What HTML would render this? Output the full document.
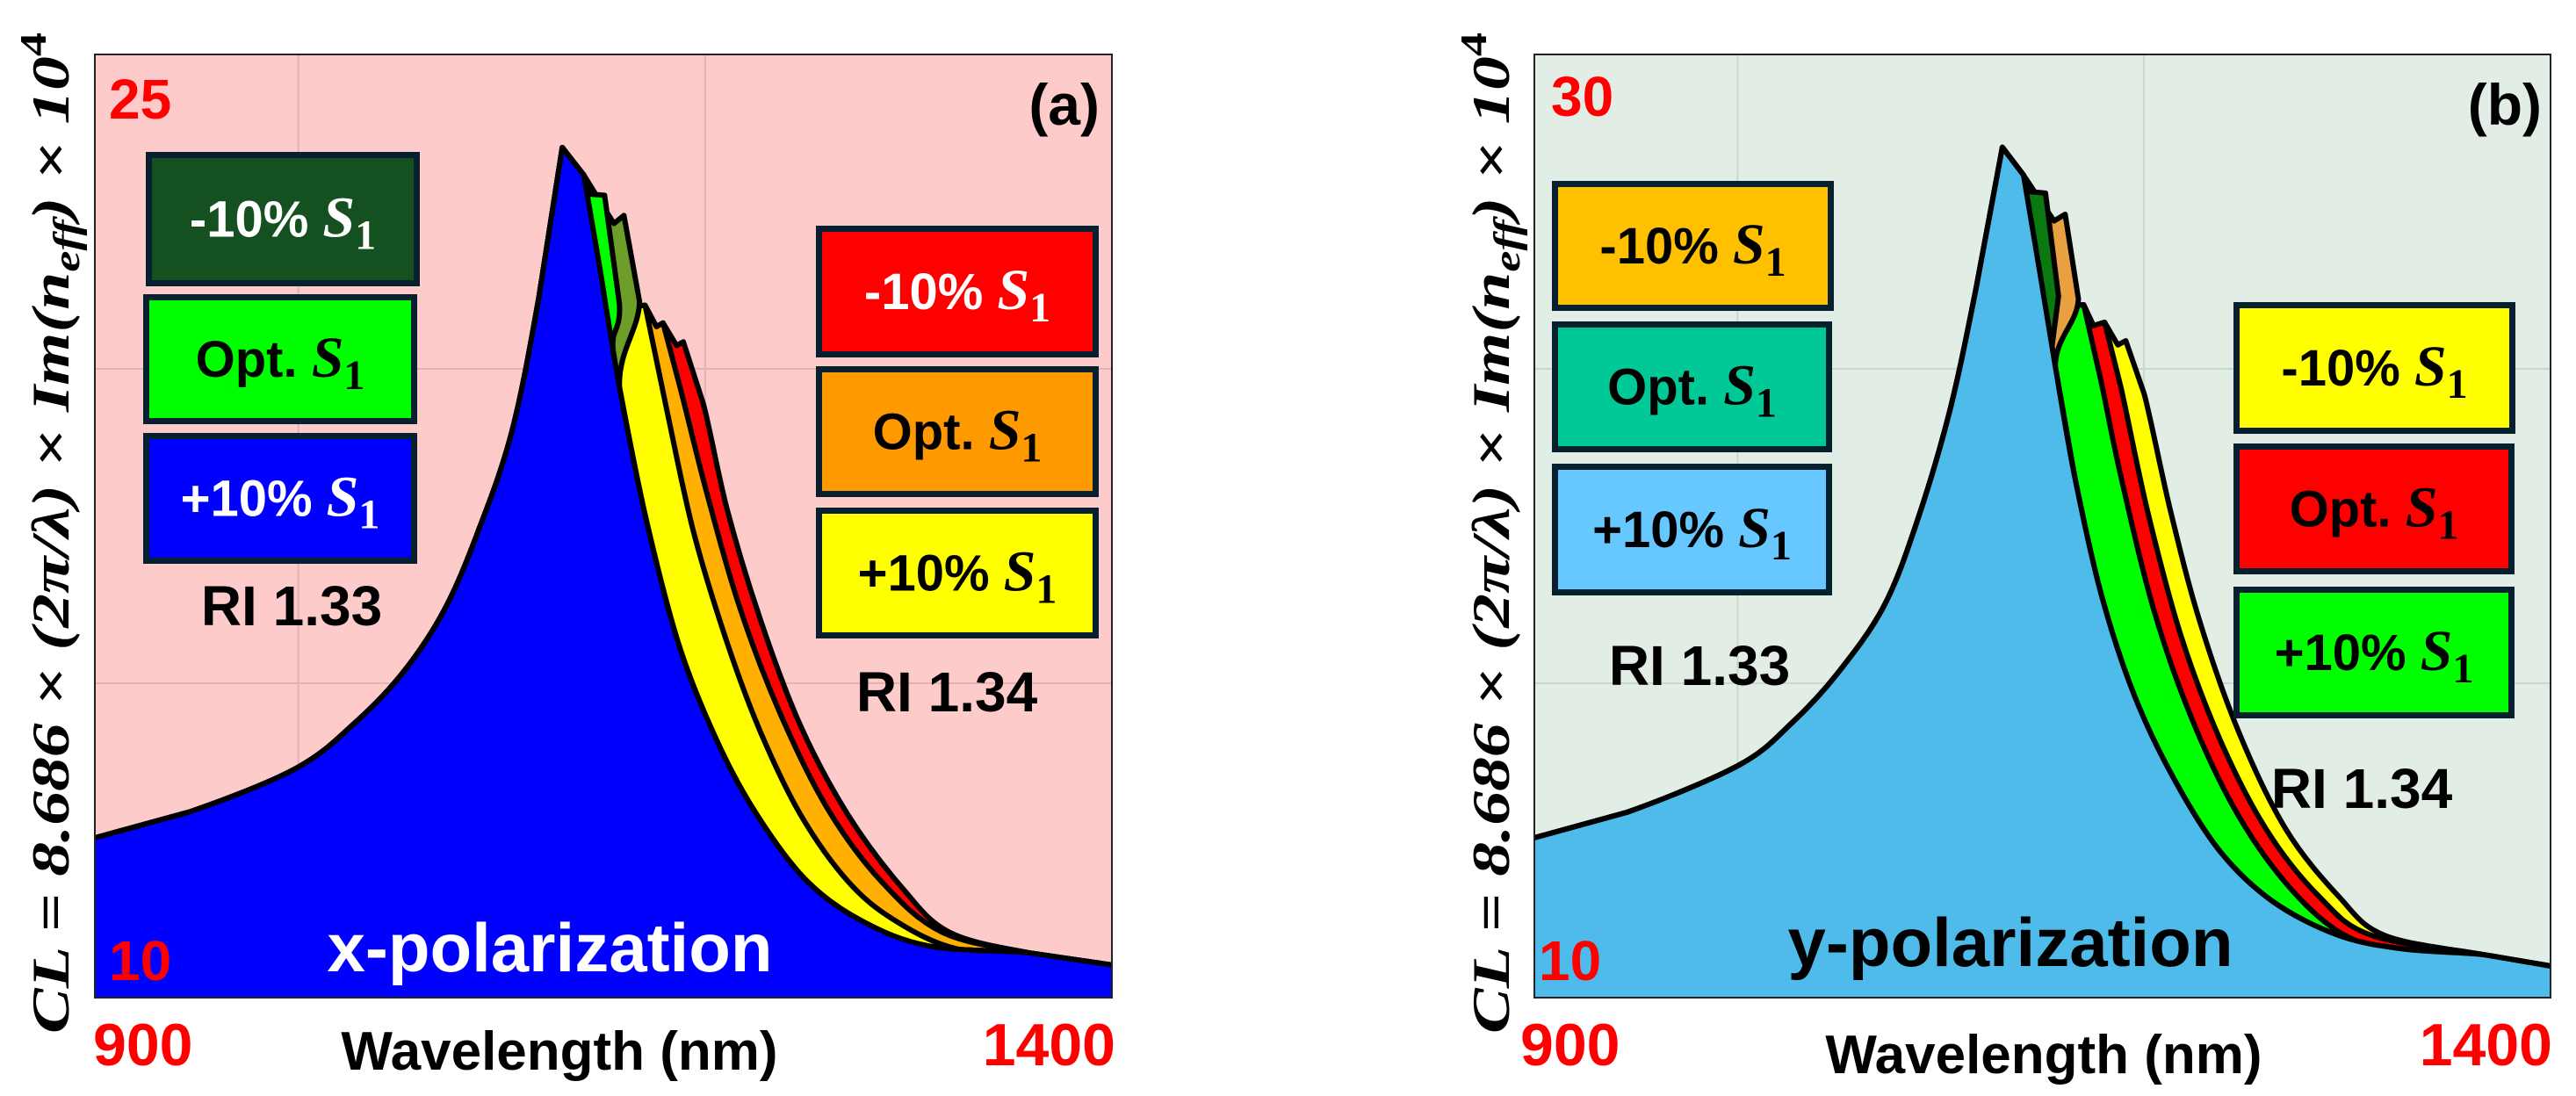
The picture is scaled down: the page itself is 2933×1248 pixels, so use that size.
<!DOCTYPE html>
<html><head><meta charset="utf-8"><style>
html,body{margin:0;padding:0;background:#fff;}
svg{display:block;}
text{font-family:"Liberation Sans",sans-serif;font-weight:bold;}
.m{font-family:"Liberation Serif",serif;font-style:italic;font-weight:bold;}
</style></head><body>
<svg id="fig" width="2933" height="1248" viewBox="0 0 2933 1248" xmlns="http://www.w3.org/2000/svg"></svg>
<script>
// ---------- Panel (a) data: x-polarization ----------
const aLeftX = [900,946.2,999.1,1028.9,1052,1071.9,1088.4,1105,1118.2,1129.8,1140.4];
const aLeftY = [12.54,12.95,13.65,14.40,15.19,16.17,17.41,19.00,21.12,23.52,23.08];
const aBlueTailX = [1148,1157.9,1171.2,1187.7,1207.6,1227.4,1250.5,1277,1310.1,1359.7,1400];
const aBlueTailY = [21.65,19.71,17.58,15.55,13.96,12.81,11.84,11.22,10.82,10.71,10.52];
const aOliveTailX = [1155.2,1160.1,1167.8,1157.9,1171.2,1187.7,1207.6,1227.4,1250.5,1277,1310.1,1359.7,1400];
const aOliveTailY = [22.31,22.44,21.07,19.71,17.58,15.55,13.96,12.81,11.84,11.22,10.82,10.71,10.52];
const aGreenTailX = [1143,1150.6,1157.9,1154.6,1157.9,1171.2,1187.7,1207.6,1227.4,1250.5,1277,1310.1,1359.7,1400];
const aGreenTailY = [22.78,22.76,21.03,20.41,19.71,17.58,15.55,13.96,12.81,11.84,11.22,10.82,10.71,10.52];
const aYellowTailX = [1154.6,1161.2,1170.5,1181.1,1194.3,1210.9,1227.3,1247.1,1270.5,1293.6,1323.3,1359.7,1400];
const aYellowTailY = [20.41,20.99,21.01,19.36,17.41,15.64,14.22,12.90,11.84,11.22,10.78,10.71,10.52];
const aOrangeTailX = [1154.6,1161.2,1170.5,1176.1,1179.3,1187.7,1200.9,1217.4,1237.3,1260.5,1286.9,1316.6,1359.7,1400];
const aOrangeTailY = [20.41,20.99,21.01,20.67,20.73,19.71,18.02,16.17,14.49,12.99,11.84,11.04,10.71,10.52];
const aRedTailX = [1154.6,1161.2,1170.5,1176.1,1179.3,1186,1189.3,1199.2,1210.9,1227.4,1247.1,1270.4,1296.8,1320.1,1359.7,1400];
const aRedTailY = [20.41,20.99,21.01,20.67,20.73,20.37,20.43,19.44,17.76,15.99,14.31,12.90,11.75,11.04,10.71,10.52];
// ---------- Panel (b) data: y-polarization ----------
const bLeftX = [900,945.6,1000.7,1026.6,1049.3,1072,1088.2,1104.4,1117.4,1130.3,1140.7];
const bLeftY = [13.39,13.93,14.93,15.82,16.88,18.30,20.08,22.44,25.05,28.03,27.44];
const bBlueTailX = [1148.2,1156.3,1166,1179,1195.2,1214.7,1237.4,1263.3,1295.7,1328.1,1367.1,1400];
const bBlueTailY = [25.52,23.39,21.02,18.54,16.41,14.64,13.10,12.04,11.32,11.03,10.91,10.67];
const bDkGreenTailX = [1144,1151.5,1157.9,1154.7,1156.3,1166,1179,1195.2,1214.7,1237.4,1263.3,1295.7,1328.1,1367.1,1400];
const bDkGreenTailY = [27.09,27.06,24.87,23.81,23.39,21.02,18.54,16.41,14.64,13.10,12.04,11.32,11.03,10.91,10.67];
const bTanTailX = [1155.7,1161.2,1167.7,1156.3,1166,1179,1195.2,1214.7,1237.4,1263.3,1295.7,1328.1,1367.1,1400];
const bTanTailY = [26.47,26.61,24.81,23.39,21.02,18.54,16.41,14.64,13.10,12.04,11.32,11.03,10.91,10.67];
const bGreenTailX = [1154.7,1162.2,1170.3,1179,1188.7,1205,1224.4,1247.1,1273,1298.9,1328.1,1367.1,1400];
const bGreenTailY = [23.81,24.67,24.69,23.04,21.03,18.19,15.82,13.81,12.27,11.32,10.97,10.91,10.67];
const bRedTailX = [1154.7,1162.2,1170.3,1175.1,1180.6,1188.7,1201.7,1217.9,1237.4,1260.1,1286,1311.9,1367.1,1400];
const bRedTailY = [23.81,24.67,24.69,24.25,24.32,22.92,20.32,17.71,15.47,13.57,12.15,11.32,10.91,10.67];
const bYellowTailX = [1154.7,1162.2,1170.3,1175.1,1180.6,1187.1,1191,1200.1,1213,1227.6,1247.1,1269.8,1295.7,1318.4,1367.1,1400];
const bYellowTailY = [23.81,24.67,24.69,24.25,24.32,23.84,23.93,22.80,20.32,17.95,15.58,13.57,12.15,11.32,10.91,10.67];

const NS = "http://www.w3.org/2000/svg";
const svg = document.getElementById('fig');
function mk(tag, attrs, parent){
  const e = document.createElementNS(NS, tag);
  for (const k in attrs) e.setAttribute(k, attrs[k]);
  (parent||svg).appendChild(e);
  return e;
}
// smooth path through points; segments shorter than 40px stay straight (keeps sharp peaks/steps)
function smooth(pts){
  let d = 'M' + pts[0][0].toFixed(1) + ',' + pts[0][1].toFixed(1);
  for (let i = 0; i < pts.length - 1; i++){
    const p0 = pts[i-1] || pts[i], p1 = pts[i], p2 = pts[i+1], p3 = pts[i+2] || p2;
    const len = Math.hypot(p2[0]-p1[0], p2[1]-p1[1]);
    const l0 = Math.hypot(p1[0]-p0[0], p1[1]-p0[1]), l2 = Math.hypot(p3[0]-p2[0], p3[1]-p2[1]);
    if (len < 40 || l0 < 40 || l2 < 40 || i >= pts.length - 2 && false){
      d += ' L' + p2[0].toFixed(1) + ',' + p2[1].toFixed(1);
      continue;
    }
    const c1 = [p1[0] + (p2[0]-p0[0])/6, p1[1] + (p2[1]-p0[1])/6];
    const c2 = [p2[0] - (p3[0]-p1[0])/6, p2[1] - (p3[1]-p1[1])/6];
    d += ' C' + c1[0].toFixed(1) + ',' + c1[1].toFixed(1) + ' ' + c2[0].toFixed(1) + ',' + c2[1].toFixed(1) + ' ' + p2[0].toFixed(1) + ',' + p2[1].toFixed(1);
  }
  return d;
}
function panel(p){
  const g = mk('g', {});
  
  
  const sx = v => p.L + (v - 900) / 500 * (p.R - p.L);
  const sy = v => p.B - (v - p.ymin) / (p.ymax - p.ymin) * (p.B - p.T);
  const bg = mk('rect', {x:p.L, y:p.T, width:p.R-p.L, height:p.B-p.T, fill:p.bg}, g);
  
  
  [0.2, 0.6].forEach(f => {
    const l = mk('line', {x1:p.L+f*(p.R-p.L), x2:p.L+f*(p.R-p.L), y1:p.T, y2:p.B, stroke:p.grid, 'stroke-width':2}, g);
    
    
  });
  [1/3, 2/3].forEach(f => {
    const l = mk('line', {x1:p.L, x2:p.R, y1:p.T+f*(p.B-p.T), y2:p.T+f*(p.B-p.T), stroke:p.grid, 'stroke-width':2}, g);
    
    
  });
  p.series.forEach(s => {
    const xs = p.leftX.concat(s.x), ys = p.leftY.concat(s.y);
    const pts = xs.map((x, i) => [sx(x), sy(ys[i])]);
    const line = smooth(pts);
    const d = 'M' + pts[0][0] + ',' + p.B + ' L' + line.slice(1) + ' L' + pts[pts.length-1][0] + ',' + p.B + ' Z';
    const a = mk('path', {d:d, fill:s.c, stroke:'none'}, g);
    
    
    const l = mk('path', {d:line, fill:'none', stroke:'#000', 'stroke-width':6, 'stroke-linejoin':'round'}, g);
    
    
  });
  const fr = mk('rect', {x:p.L, y:p.T, width:p.R-p.L, height:p.B-p.T, fill:'none', stroke:'#222', 'stroke-width':2}, g);
  
  
  p.boxes.forEach(b => {
    const bx = mk('g', {}, g);
    
    
    mk('rect', {x:b.x+3.5, y:b.y+3.5, width:b.w-7, height:b.h-7, fill:b.c, stroke:'#062030', 'stroke-width':7}, bx);
    const t = mk('text', {x:b.x+b.w/2, y:b.y+b.h/2+20, 'text-anchor':'middle', 'font-size':58, fill:b.tc}, bx);
    const t1 = mk('tspan', {}, t); t1.textContent = b.t + ' ';
    const t2 = mk('tspan', {class:'m', 'font-size':66}, t); t2.textContent = 'S';
    const t3 = mk('tspan', {class:'m', 'font-size':48, dy:14, style:'font-style:normal'}, t); t3.textContent = '1';
  });
  p.texts.forEach(o => {
    const t = mk('text', {x:o.x, y:o.y, 'text-anchor':o.a||'middle', 'font-size':o.s, fill:o.c||'#000'}, g);
    t.textContent = o.t;
    
    
  });
  const yl = mk('text', {x:0, y:0, transform:'translate('+p.yl+','+((p.T+p.B)/2+8)+') rotate(-90)', 'text-anchor':'middle', 'font-size':60, class:'m', textLength:1140, lengthAdjust:'spacingAndGlyphs'}, g);
  
  
  const y1 = mk('tspan', {}, yl); y1.textContent = 'CL = 8.686 × (2π/λ) × Im(n';
  const y2 = mk('tspan', {dy:12, 'font-size':42}, yl); y2.textContent = 'eff';
  const y3 = mk('tspan', {dy:-12}, yl); y3.textContent = ') × 10';
  const y4 = mk('tspan', {dy:-26, 'font-size':42, style:'font-style:normal'}, yl); y4.textContent = '4';
}

panel({
  name:'panel-a', L:108, R:1266, T:62, B:1136, ymin:10, ymax:25, bg:'#FCCBCA', grid:'#e3b3b3', yl:78,
  leftX:aLeftX, leftY:aLeftY,
  series:[
    {n:'ri134-minus10', x:aRedTailX, y:aRedTailY, c:'#FF0000'},
    {n:'ri134-opt', x:aOrangeTailX, y:aOrangeTailY, c:'#FFB000'},
    {n:'ri134-plus10', x:aYellowTailX, y:aYellowTailY, c:'#FFFF00'},
    {n:'ri133-minus10', x:aOliveTailX, y:aOliveTailY, c:'#6E9E2A'},
    {n:'ri133-opt', x:aGreenTailX, y:aGreenTailY, c:'#00FF00'},
    {n:'ri133-plus10', x:aBlueTailX, y:aBlueTailY, c:'#0000FF'}
  ],
  boxes:[
    {n:'legend-ri133-minus10', x:166, y:173, w:312, h:153, c:'#155020', tc:'#fff', t:'-10%'},
    {n:'legend-ri133-opt', x:163, y:335, w:312, h:148, c:'#00FF00', tc:'#000', t:'Opt.'},
    {n:'legend-ri133-plus10', x:163, y:493, w:312, h:149, c:'#0000FF', tc:'#fff', t:'+10%'},
    {n:'legend-ri134-minus10', x:929, y:257, w:322, h:150, c:'#FF0000', tc:'#fff', t:'-10%'},
    {n:'legend-ri134-opt', x:929, y:417, w:322, h:149, c:'#FF9900', tc:'#000', t:'Opt.'},
    {n:'legend-ri134-plus10', x:929, y:578, w:322, h:149, c:'#FFFF00', tc:'#000', t:'+10%'}
  ],
  texts:[
    {n:'label-ri-133', t:'RI 1.33', x:332, y:712, s:64},
    {n:'label-ri-134', t:'RI 1.34', x:1078, y:810, s:64},
    {n:'y-max-label', t:'25', x:124, y:135, s:64, c:'#FF0000', a:'start'},
    {n:'y-min-label', t:'10', x:124, y:1116, s:64, c:'#FF0000', a:'start'},
    {n:'panel-label-a', t:'(a)', x:1252, y:142, s:66, a:'end'},
    {n:'polarization-label', t:'x-polarization', x:626, y:1106, s:78, c:'#fff'},
    {n:'x-min-label', t:'900', x:106, y:1213, s:68, c:'#FF0000', a:'start'},
    {n:'x-max-label', t:'1400', x:1270, y:1213, s:68, c:'#FF0000', a:'end'},
    {n:'x-axis-title', t:'Wavelength (nm)', x:637, y:1218, s:62}
  ]
});

panel({
  name:'panel-b', L:1747, R:2904, T:62, B:1136, ymin:10, ymax:30, bg:'#E2EEE5', grid:'#c8d8cc', yl:1718,
  leftX:bLeftX, leftY:bLeftY,
  series:[
    {n:'ri134-minus10', x:bYellowTailX, y:bYellowTailY, c:'#FFFF00'},
    {n:'ri134-opt', x:bRedTailX, y:bRedTailY, c:'#FF0000'},
    {n:'ri134-plus10', x:bGreenTailX, y:bGreenTailY, c:'#00FF00'},
    {n:'ri133-opt', x:bTanTailX, y:bTanTailY, c:'#E8A040'},
    {n:'ri133-minus10', x:bDkGreenTailX, y:bDkGreenTailY, c:'#0A7A10'},
    {n:'ri133-plus10', x:bBlueTailX, y:bBlueTailY, c:'#4FBBEA'}
  ],
  boxes:[
    {n:'legend-ri133-minus10', x:1767, y:206, w:321, h:148, c:'#FFC000', tc:'#000', t:'-10%'},
    {n:'legend-ri133-opt', x:1767, y:366, w:319, h:149, c:'#00C896', tc:'#000', t:'Opt.'},
    {n:'legend-ri133-plus10', x:1767, y:528, w:319, h:150, c:'#66C8FF', tc:'#000', t:'+10%'},
    {n:'legend-ri134-minus10', x:2543, y:344, w:321, h:150, c:'#FFFF00', tc:'#000', t:'-10%'},
    {n:'legend-ri134-opt', x:2543, y:505, w:320, h:149, c:'#FF0000', tc:'#000', t:'Opt.'},
    {n:'legend-ri134-plus10', x:2543, y:668, w:320, h:150, c:'#00FF00', tc:'#000', t:'+10%'}
  ],
  texts:[
    {n:'label-ri-133', t:'RI 1.33', x:1935, y:780, s:64},
    {n:'label-ri-134', t:'RI 1.34', x:2689, y:920, s:64},
    {n:'y-max-label', t:'30', x:1766, y:132, s:64, c:'#FF0000', a:'start'},
    {n:'y-min-label', t:'10', x:1752, y:1116, s:64, c:'#FF0000', a:'start'},
    {n:'panel-label-b', t:'(b)', x:2894, y:142, s:66, a:'end'},
    {n:'polarization-label', t:'y-polarization', x:2289, y:1100, s:78, c:'#000'},
    {n:'x-min-label', t:'900', x:1731, y:1213, s:68, c:'#FF0000', a:'start'},
    {n:'x-max-label', t:'1400', x:2906, y:1213, s:68, c:'#FF0000', a:'end'},
    {n:'x-axis-title', t:'Wavelength (nm)', x:2327, y:1222, s:62}
  ]
});
</script>
</body></html>
